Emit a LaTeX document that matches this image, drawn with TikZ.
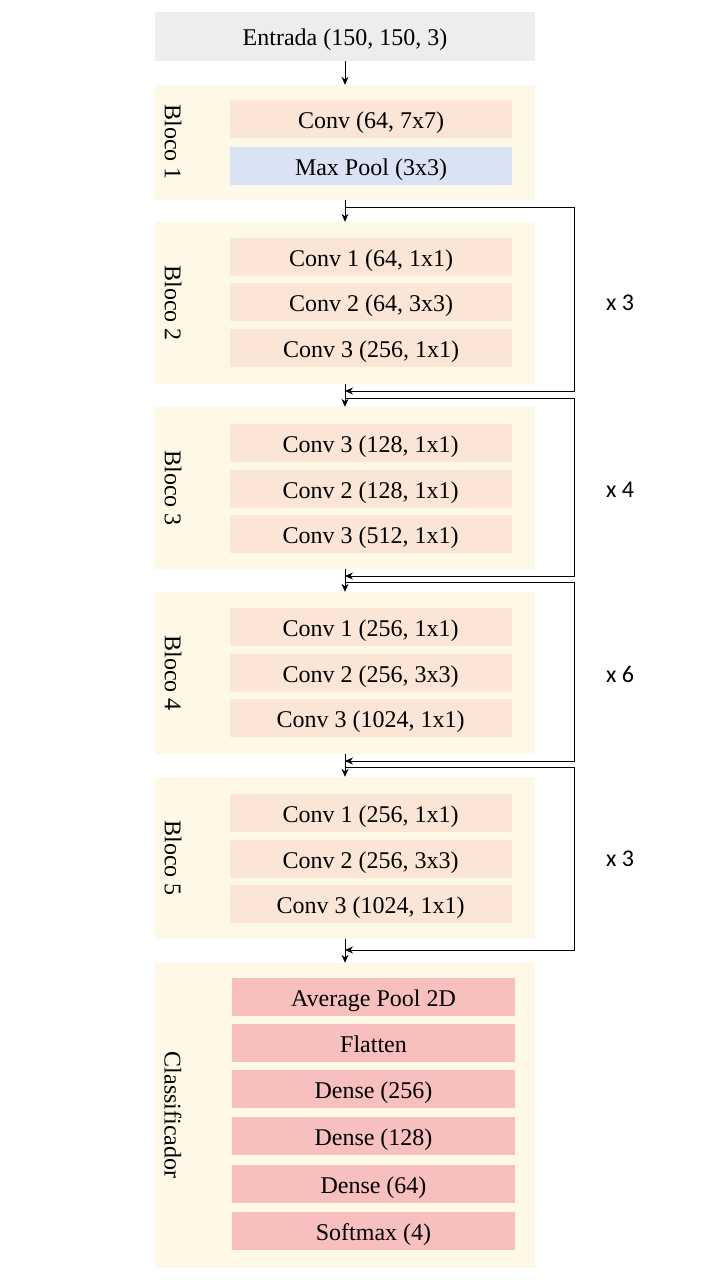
\documentclass[tikz,border=0pt]{standalone}
\usepackage{fontspec}
\setmainfont{Liberation Serif}
\newfontfamily\calfont{Carlito}
\usetikzlibrary{arrows.meta}
\definecolor{cgray}{HTML}{EDEDED}
\definecolor{ccream}{HTML}{FEF8E7}
\definecolor{cpeach}{HTML}{FBE5D6}
\definecolor{cblue}{HTML}{DAE3F3}
\definecolor{cpink}{HTML}{F8BFBF}
\tikzset{
  blk/.style={fill=ccream, draw=none, inner sep=0pt, minimum width=380pt},
  lay/.style={fill=#1, draw=none, inner sep=0pt, minimum width=282pt, minimum height=38pt, text height=18pt, text depth=0pt, font=\fontsize{24}{28}\selectfont},
  blab/.style={rotate=-90, inner sep=0pt, font=\fontsize{24}{28}\selectfont},
  rep/.style={inner sep=0pt, font=\calfont\fontsize{24}{28}\selectfont},
  arr/.style={-{Stealth[length=8pt,width=7pt]}, line width=0.9pt},
}
\begin{document}
\begin{tikzpicture}[x=1pt,y=-1pt]
\useasboundingbox (0,0) rectangle (720,1280);
% input
\node[fill=cgray, inner sep=0pt, minimum width=380pt, minimum height=49pt, text height=18pt, text depth=0pt, font=\fontsize{24}{28}\selectfont] (inp) at (345,36.5) {Entrada (150, 150, 3)};
% blocks
\node[blk, minimum height=115pt] (b1) at (345,142.5) {};
\node[blk, minimum height=162pt] (b2) at (345,303) {};
\node[blk, minimum height=162pt] (b3) at (345,488) {};
\node[blk, minimum height=162pt] (b4) at (345,673) {};
\node[blk, minimum height=162pt] (b5) at (345,858) {};
\node[blk, minimum height=305pt] (b6) at (345,1115.5) {};
% block labels
\node[blab] (t1) at (173,142) {Bloco 1};
\node[blab] (t2) at (173,303) {Bloco 2};
\node[blab] (t3) at (173,488) {Bloco 3};
\node[blab] (t4) at (173,673) {Bloco 4};
\node[blab] (t5) at (173,858) {Bloco 5};
\node[blab] (t6) at (173,1115) {Classificador};
% layers block 1
\node[lay=cpeach] (c11) at (371,119) {Conv (64, 7x7)};
\node[lay=cblue] (c12) at (371,166) {Max Pool (3x3)};
% block 2
\node[lay=cpeach] (c21) at (371,257) {Conv 1 (64, 1x1)};
\node[lay=cpeach] (c22) at (371,302) {Conv 2 (64, 3x3)};
\node[lay=cpeach] (c23) at (371,348) {Conv 3 (256, 1x1)};
% block 3
\node[lay=cpeach] (c31) at (370.5,443) {Conv 3 (128, 1x1)};
\node[lay=cpeach] (c32) at (370.5,489) {Conv 2 (128, 1x1)};
\node[lay=cpeach] (c33) at (370.5,534) {Conv 3 (512, 1x1)};
% block 4
\node[lay=cpeach] (c41) at (370.5,627) {Conv 1 (256, 1x1)};
\node[lay=cpeach] (c42) at (370.5,673) {Conv 2 (256, 3x3)};
\node[lay=cpeach] (c43) at (370.5,718) {Conv 3 (1024, 1x1)};
% block 5
\node[lay=cpeach] (c51) at (370.5,813) {Conv 1 (256, 1x1)};
\node[lay=cpeach] (c52) at (370.5,859) {Conv 2 (256, 3x3)};
\node[lay=cpeach] (c53) at (370.5,904) {Conv 3 (1024, 1x1)};
% classifier
\node[lay=cpink, minimum width=283pt] (c61) at (373.5,997) {Average Pool 2D};
\node[lay=cpink, minimum width=283pt] (c62) at (373.5,1043) {Flatten};
\node[lay=cpink, minimum width=283pt] (c63) at (373.5,1089) {Dense (256)};
\node[lay=cpink, minimum width=283pt] (c64) at (373.5,1136) {Dense (128)};
\node[lay=cpink, minimum width=283pt] (c65) at (373.5,1184) {Dense (64)};
\node[lay=cpink, minimum width=283pt] (c66) at (373.5,1231) {Softmax (4)};
% main arrows
\draw[arr] (inp.south) -- (b1.north);
\draw[arr] (b1.south) -- (b2.north);
\draw[arr] (b2.south) -- (b3.north);
\draw[arr] (b3.south) -- (b4.north);
\draw[arr] (b4.south) -- (b5.north);
\draw[arr] (b5.south) -- (b6.north);
% loops
\coordinate (l1s) at (345,207); \coordinate (l1r) at (574,207); \coordinate (l1e) at (345,391);
\coordinate (l2s) at (345,398); \coordinate (l2r) at (574,398); \coordinate (l2e) at (345,576);
\coordinate (l3s) at (345,582); \coordinate (l3r) at (574,582); \coordinate (l3e) at (345,761);
\coordinate (l4s) at (345,767); \coordinate (l4r) at (574,767); \coordinate (l4e) at (345,950);
\draw[arr, line join=miter] (l1s) -- (l1r) |- (l1e);
\draw[arr, line join=miter] (l2s) -- (l2r) |- (l2e);
\draw[arr, line join=miter] (l3s) -- (l3r) |- (l3e);
\draw[arr, line join=miter] (l4s) -- (l4r) |- (l4e);
% repetition labels
\node[rep] (r1) at (620,303) {x 3};
\node[rep] (r2) at (620,490) {x 4};
\node[rep] (r3) at (620,674) {x 6};
\node[rep] (r4) at (620,859) {x 3};
\end{tikzpicture}
\end{document}
